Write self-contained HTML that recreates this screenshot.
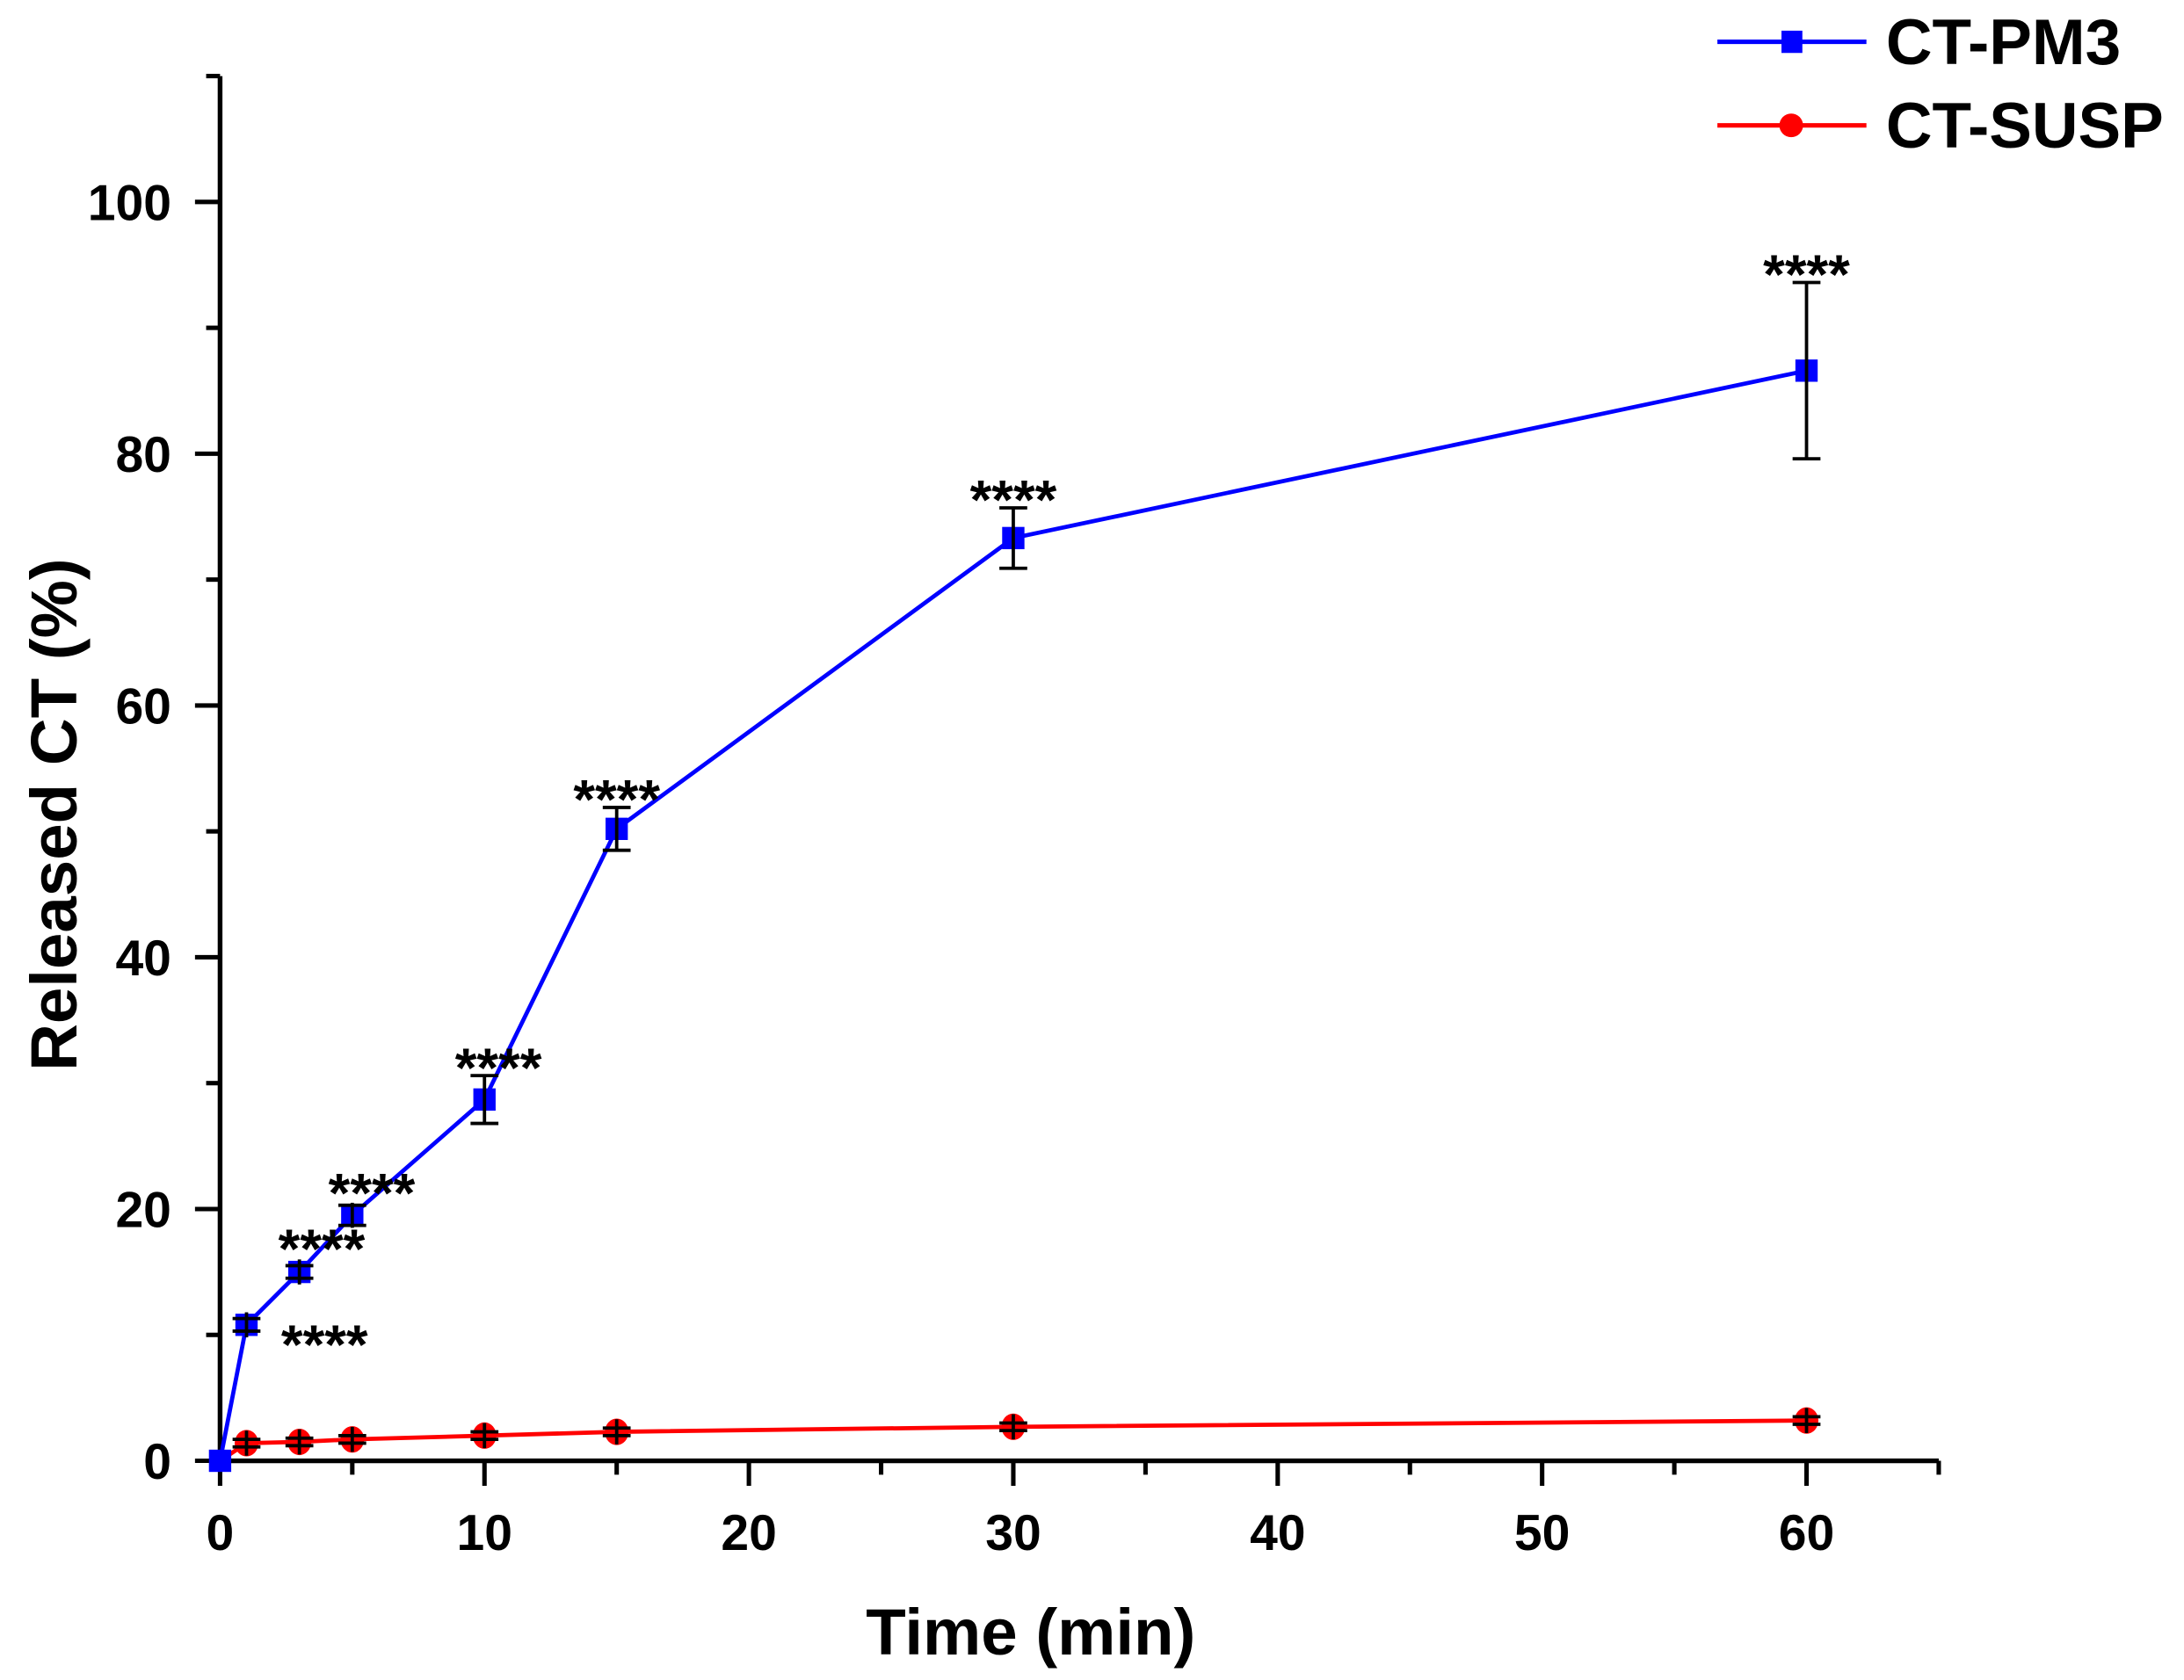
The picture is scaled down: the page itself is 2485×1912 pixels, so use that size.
<!DOCTYPE html>
<html><head><meta charset="utf-8"><style>
html,body{margin:0;padding:0;background:#fff}
svg{display:block}
text{font-family:"Liberation Sans",Arial,sans-serif;font-weight:bold;fill:#000}
</style></head><body>
<svg id="chart" width="2485" height="1912" viewBox="0 0 1568 1206.4" xmlns="http://www.w3.org/2000/svg">
<g id="axes"></g>
<g id="series"></g>
<g id="legend">
  <line x1="1233" y1="30" x2="1340" y2="30" stroke="#0000ff" stroke-width="3.2"/>
  <rect x="1279" y="22" width="15" height="16" fill="#0000ff"/>
  <text x="1354" y="46" font-size="46">CT-PM3</text>
  <line x1="1233" y1="90" x2="1340" y2="90" stroke="#ff0000" stroke-width="3.2"/>
  <circle cx="1286" cy="90" r="8.5" fill="#ff0000"/>
  <text x="1354" y="106" font-size="46">CT-SUSP</text>
</g>
<text x="740" y="1188" font-size="47" text-anchor="middle">Time (min)</text>
<text transform="translate(55,585) rotate(-90)" font-size="47" text-anchor="middle">Released CT (%)</text>
</svg>
<script>
const times = [0, 1, 3, 5, 10, 15, 30, 60];
const pm3Values = [0, 10.8, 15.0, 19.5, 28.7, 50.2, 73.3, 86.6];
const pm3Errors = [0, 0.5, 0.5, 0.8, 1.9, 1.7, 2.4, 7.0];
const suspValues = [0, 1.4, 1.5, 1.7, 2.0, 2.3, 2.7, 3.2];
const suspErrors = [0, 0.3, 0.3, 0.3, 0.3, 0.3, 0.3, 0.3];
const xTickLabels = [0, 10, 20, 30, 40, 50, 60];
const yTickLabels = [0, 20, 40, 60, 80, 100];
const starLabels = ["", "****", "****", "****", "****", "****", "****", "****"];

const X0 = 158, X60 = 1297, Y0 = 1049, Y100 = 145;
const xs = v => X0 + (X60 - X0) * v / 60;
const ys = v => Y0 - (Y0 - Y100) * v / 100;
const NS = "http://www.w3.org/2000/svg";
function mk(tag, attrs, parent) {
  const e = document.createElementNS(NS, tag);
  for (const k in attrs) e.setAttribute(k, attrs[k]);
  parent.appendChild(e);
  return e;
}
const axes = document.getElementById('axes');
const series = document.getElementById('series');

let el = mk('line', {x1: xs(0) - 1.7, y1: ys(0), x2: xs(65), y2: ys(0), stroke: '#000', 'stroke-width': 3.4}, axes);


el = mk('line', {x1: xs(0), y1: ys(0) + 1.7, x2: xs(0), y2: ys(110), stroke: '#000', 'stroke-width': 3.4}, axes);



for (let v = 0; v <= 65; v += 5) {
  const major = v % 10 === 0;
  el = mk('line', {x1: xs(v), y1: ys(0), x2: xs(v), y2: ys(0) + (major ? 18 : 10), stroke: '#000', 'stroke-width': 3.2}, axes);
  
  
}
xTickLabels.forEach(v => {
  const t = mk('text', {x: xs(v), y: ys(0) + 64, 'font-size': 36, 'text-anchor': 'middle'}, axes);
  t.textContent = v;
  
  
});
for (let v = 0; v <= 110; v += 10) {
  const major = v % 20 === 0;
  el = mk('line', {x1: xs(0), y1: ys(v), x2: xs(0) - (major ? 18 : 10), y2: ys(v), stroke: '#000', 'stroke-width': 3.2}, axes);
  
  
}
yTickLabels.forEach(v => {
  const t = mk('text', {x: xs(0) - 35, y: ys(v) + 13, 'font-size': 36, 'text-anchor': 'end'}, axes);
  t.textContent = v;
  
  
});

function drawSeries(vals, errs, color, kind, name) {
  const pts = times.map((t, i) => xs(t) + ',' + ys(vals[i])).join(' ');
  const pl = mk('polyline', {points: pts, fill: 'none', stroke: color, 'stroke-width': 3}, series);
  
  
  times.forEach((t, i) => {
    const cx = xs(t), cy = ys(vals[i]);
    let m;
    if (kind === 'square') m = mk('rect', {x: cx - 8, y: cy - 8, width: 16, height: 16, fill: color}, series);
    else m = mk('ellipse', {cx: cx, cy: cy, rx: i === 0 ? 5 : 8.5, ry: i === 0 ? 5 : 9.5, fill: color}, series);
    
    
    if (i > 0) {
      const top = ys(vals[i] + errs[i]), bot = ys(vals[i] - errs[i]);
      const g = mk('g', {stroke: '#000', 'stroke-width': 2.4}, series);
      
      
      mk('line', {x1: cx, y1: Math.min(top, cy - 9), x2: cx, y2: Math.max(bot, cy + 9)}, g);
      mk('line', {x1: cx - 10, y1: top, x2: cx + 10, y2: top}, g);
      mk('line', {x1: cx - 10, y1: bot, x2: cx + 10, y2: bot}, g);
    }
  });
}
drawSeries(suspValues, suspErrors, '#ff0000', 'circle', 'ct-susp');
drawSeries(pm3Values, pm3Errors, '#0000ff', 'square', 'ct-pm3');

times.forEach((t, i) => {
  if (!starLabels[i]) return;
  let x = xs(t), y = ys(pm3Values[i] + pm3Errors[i]) + 8;
  if (i === 1) { x = xs(t) + 56; y = ys(pm3Values[i]) + 28; }
  else if (i === 2) { x = xs(t) + 16; y = ys(pm3Values[i]) - 3; }
  else if (i === 3) { x = xs(t) + 14; y = ys(pm3Values[i] + pm3Errors[i]) + 5; }
  else if (i === 4) { x = xs(t) + 10; }
  const s = mk('text', {x: x, y: y, 'font-size': 40, 'font-weight': 'normal', 'text-anchor': 'middle'}, series);
  s.textContent = starLabels[i];
  
  
});
</script>
</body></html>
